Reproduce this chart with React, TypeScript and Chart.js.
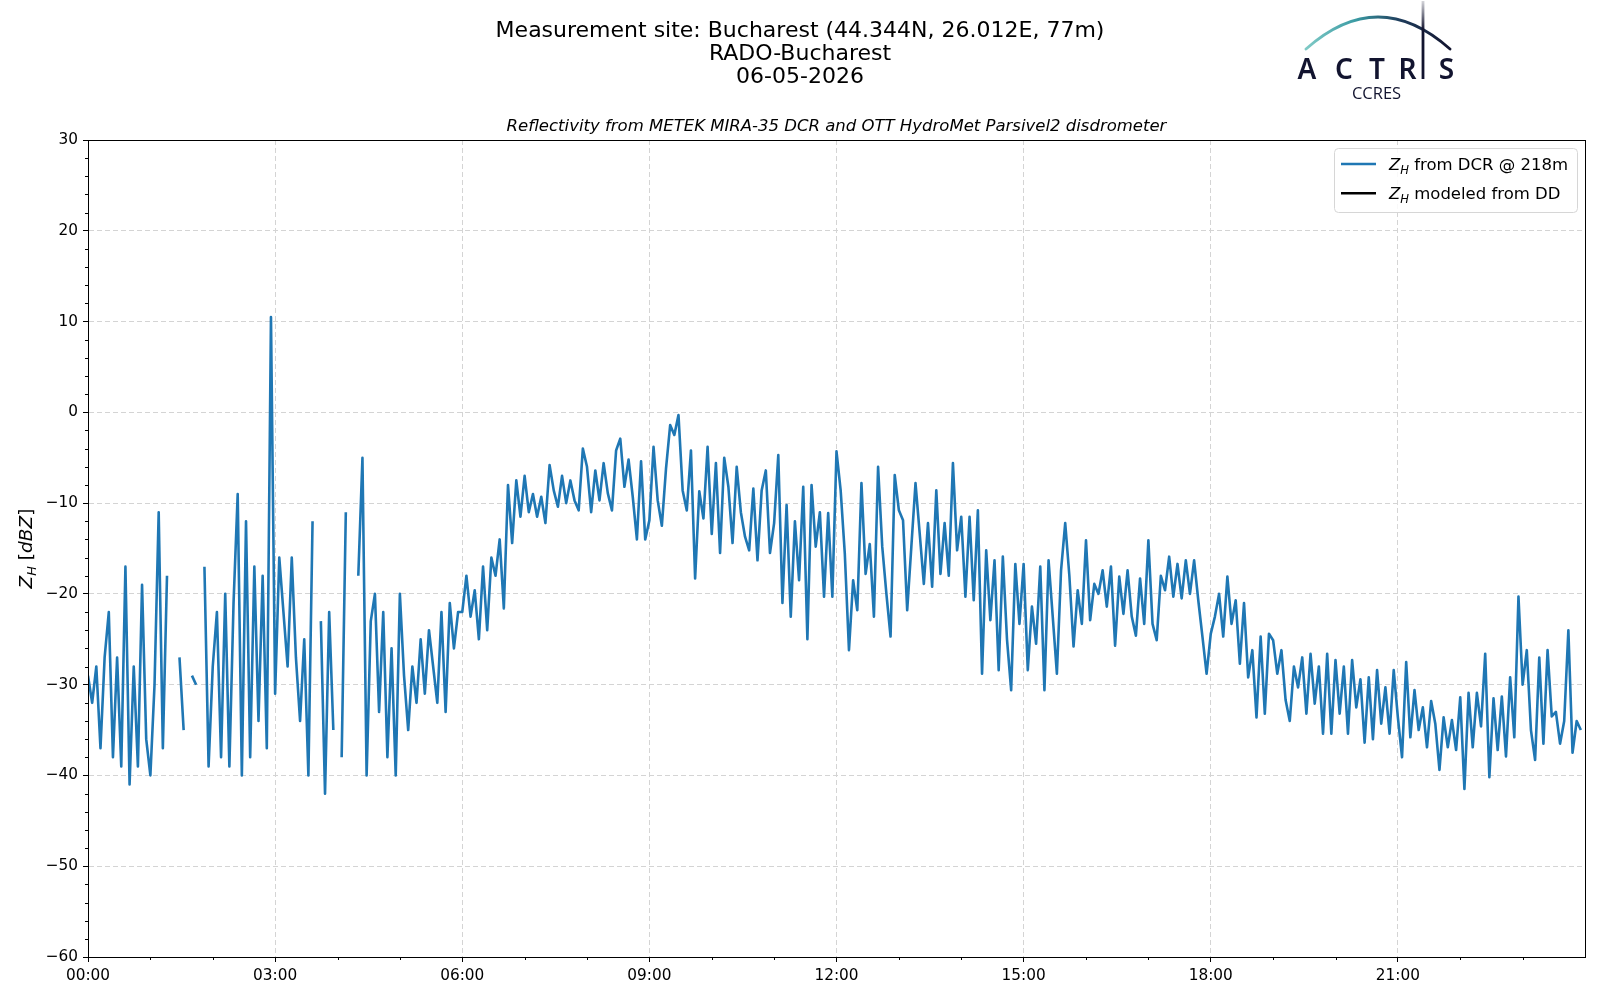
import { useEffect, useRef } from "react";
import { Chart, registerables } from "chart.js";

Chart.register(...registerables);

// Z_H from the cloud radar, one value every 4 minutes, 15 per hour (null = no echo)
const sampleMinutes = 4;
const zhNight = [
  -29, -32, -28, -37, -27, -22, -38, -27, -39, -17, -41, -28, -39, -19, -36,
  -40, -30, -11, -37, -18, null, null, -27, -35, null, -29, -30, null, -17, -39,
  -28, -22, -38, -20, -39, -21, -9, -40, -12, -38, -17, -34, -18, -37, 10.5,
  -31, -16, -22, -28, -16, -27, -34, -25, -40, -12, null, -23, -42, -22, -35,
  null, -38, -11, null, null, -18, -5, -40, -23, -20, -33, -22, -38, -26, -40,
  -20, -29, -35, -28, -32, -25, -31, -24, -28, -32, -22, -33, -21, -26, -22,
];
const zhMorning = [
  -22, -18, -22.5, -19.6, -25, -17, -24, -16, -18, -14, -21.6, -8, -14.4, -7.5, -11.5,
  -7, -11, -9, -11.5, -9.3, -12.2, -5.8, -8.6, -10.4, -7, -10, -7.5, -9.7, -10.8, -4,
  -6, -11, -6.4, -9.7, -5.6, -8.9, -10.8, -4.2, -2.9, -8.2, -5.2, -9.3, -14, -5.4, -14,
  -11.9, -3.8, -9.7, -12.5, -6.2, -1.4, -2.5, -0.3, -8.6, -10.8, -4.2, -18.3, -8.7, -11.7, -3.8,
  -13.4, -5.6, -15.5, -5, -8.2, -14.4, -6, -11, -13.7, -15.2, -8.4, -16.3, -8.6, -6.4, -15.5,
  -12.2, -4.7, -21, -10.2, -22.5, -12, -18.5, -8.2, -25, -8, -14.8, -11, -20.3, -11.1, -20.3,
];
const zhAfternoon = [
  -4.3, -8.6, -15.6, -26.2, -18.5, -21.8, -7.8, -17.8, -14.5, -22.5, -6, -14.8, -20, -24.7, -6.9,
  -10.8, -11.9, -21.8, -14.8, -7.8, -13.3, -18.9, -12.2, -19.2, -8.6, -17.8, -12.2, -18, -5.6, -15.2,
  -11.5, -20.3, -11.5, -20.7, -10.8, -28.8, -15.2, -22.9, -16.3, -28.4, -15.9, -25, -30.6, -16.7, -23.3,
  -16.7, -28.4, -21.4, -25.5, -17, -30.6, -16.3, -22.5, -28.8, -17.4, -12.2, -18, -25.8, -19.6, -23.3,
  -14.1, -22.9, -18.9, -20, -17.4, -21.4, -17, -25.7, -18.1, -22.2, -17.4, -22.5, -24.6, -18.3, -23.3,
  -14.1, -23.3, -25.1, -18, -19.6, -15.9, -20.3, -16.7, -20.5, -16.3, -20, -16.3, -20.7, -24.7, -28.8,
];
const zhEvening = [
  -24.4, -22.5, -20, -24.7, -18.1, -23.3, -20.7, -27.7, -21, -29.2, -26.2, -33.6, -24.7, -33.2, -24.4,
  -25.1, -28.8, -26.2, -31.7, -34, -28, -30.3, -27, -33.2, -26.6, -32.1, -28, -35.4, -26.6, -35.4,
  -27.3, -33.2, -28, -35.4, -27.3, -32.5, -29.4, -36.4, -29.2, -36, -28.4, -34.3, -30.3, -35.4, -28.4,
  -33.6, -38, -27.5, -35.8, -30.6, -35, -32.5, -36.9, -31.8, -34.3, -39.4, -33.6, -36.9, -33.9, -37.2,
  -31.4, -41.5, -30.9, -36.9, -30.9, -34.6, -26.6, -40.2, -31.5, -37.2, -31.3, -37.9, -29.2, -35.8, -20.3,
  -30, -26.2, -35, -38.3, -27, -36.5, -26.2, -33.5, -33, -36.5, -34, -24, -37.5, -34, -35,
];

const xTickMinutes = [0, 180, 360, 540, 720, 900, 1080, 1260];
const xTickLabels = ["00:00", "03:00", "06:00", "09:00", "12:00", "15:00", "18:00", "21:00"];
const yTickValues = [30, 20, 10, 0, -10, -20, -30, -40, -50, -60];
const titleLines = [
  "Measurement site: Bucharest (44.344N, 26.012E, 77m)",
  "RADO-Bucharest",
  "06-05-2026",
];
const subtitle = "Reflectivity from METEK MIRA-35 DCR and OTT HydroMet Parsivel2 disdrometer";
const legendItems = [
  { text: " from DCR @ 218m", color: "#1f77b4" },
  { text: " modeled from DD", color: "#000000" },
];

const FONT = '"DejaVu Sans"';

type Run = { text: string; italic?: boolean; sub?: boolean };

function runFont(r: Run, size: number) {
  const s = r.sub ? size * 0.7 : size;
  return `${r.italic ? "italic " : ""}${s}px ${FONT}`;
}

function measureRuns(ctx: CanvasRenderingContext2D, runs: Run[], size: number) {
  let w = 0;
  for (const r of runs) {
    ctx.font = runFont(r, size);
    w += ctx.measureText(r.text).width;
  }
  return w;
}

function drawRuns(ctx: CanvasRenderingContext2D, runs: Run[], x: number, y: number, size: number) {
  let cx = x;
  for (const r of runs) {
    ctx.font = runFont(r, size);
    ctx.fillText(r.text, cx, r.sub ? y + size * 0.22 : y);
    cx += ctx.measureText(r.text).width;
  }
}

const decorations = {
  id: "decorations",
  afterDraw(chart: any) {
    const ctx: CanvasRenderingContext2D = chart.ctx;
    const { left, right, top, bottom } = chart.chartArea;
    const xs = chart.scales.x;
    const ys = chart.scales.y;
    ctx.save();
    ctx.textBaseline = "alphabetic";
    ctx.fillStyle = "#000";

    // frame
    ctx.strokeStyle = "#000";
    ctx.lineWidth = 1;
    ctx.strokeRect(Math.round(left) + 0.5, Math.round(top) + 0.5, Math.round(right - left), Math.round(bottom - top));

    // minor ticks
    ctx.beginPath();
    for (let m = 60; m < 1440; m += 60) {
      if (m % 180 === 0) continue;
      const px = Math.round(xs.getPixelForValue(m)) + 0.5;
      ctx.moveTo(px, bottom);
      ctx.lineTo(px, bottom + 3);
    }
    for (let v = -58; v < 30; v += 2) {
      if (v % 10 === 0) continue;
      const py = Math.round(ys.getPixelForValue(v)) + 0.5;
      ctx.moveTo(left - 3, py);
      ctx.lineTo(left, py);
    }
    ctx.stroke();

    // header
    ctx.textAlign = "center";
    ctx.font = `22px ${FONT}`;
    const baselines = [36.5, 60, 82.5];
    titleLines.forEach((t, i) => ctx.fillText(t, 800, baselines[i]));
    ctx.font = `italic 16.5px ${FONT}`;
    ctx.fillText(subtitle, (left + right) / 2, 131);

    // y axis title
    ctx.save();
    ctx.translate(25, (top + bottom) / 2);
    ctx.rotate(-Math.PI / 2);
    const yRuns: Run[] = [
      { text: "Z", italic: true },
      { text: "H", italic: true, sub: true },
      { text: " [" },
      { text: "dBZ", italic: true },
      { text: "]" },
    ];
    ctx.textAlign = "left";
    const yw = measureRuns(ctx, yRuns, 18.5);
    drawRuns(ctx, yRuns, -yw / 2, 6.5, 18.5);
    ctx.restore();

    // legend
    const lx = 1334, ly = 148, lw = 243, lh = 64;
    ctx.beginPath();
    ctx.roundRect(lx + 0.5, ly + 0.5, lw, lh, 4);
    ctx.fillStyle = "rgba(255,255,255,0.85)";
    ctx.fill();
    ctx.strokeStyle = "#d6d6d6";
    ctx.lineWidth = 1;
    ctx.stroke();
    ctx.textAlign = "left";
    legendItems.forEach((item, i) => {
      const cy = 164 + i * 29.3;
      ctx.strokeStyle = item.color;
      ctx.lineWidth = 2.4;
      ctx.beginPath();
      ctx.moveTo(1341, cy);
      ctx.lineTo(1376, cy);
      ctx.stroke();
      ctx.fillStyle = "#000";
      drawRuns(
        ctx,
        [{ text: "Z", italic: true }, { text: "H", italic: true, sub: true }, { text: item.text }],
        1389,
        cy + 6,
        16.5
      );
    });

    // ACTRIS / CCRES logo
    const navy = "#12142f";
    const arcGrad = ctx.createLinearGradient(1306, 0, 1450, 0);
    arcGrad.addColorStop(0, "#7fcac6");
    arcGrad.addColorStop(0.35, "#3a9aa3");
    arcGrad.addColorStop(0.65, "#1f3d5c");
    arcGrad.addColorStop(1, navy);
    ctx.strokeStyle = arcGrad;
    ctx.lineWidth = 2.8;
    ctx.lineCap = "round";
    ctx.beginPath();
    ctx.moveTo(1306, 49);
    ctx.quadraticCurveTo(1378, -15, 1450, 49);
    ctx.stroke();
    const vGrad = ctx.createLinearGradient(0, 0, 0, 30);
    vGrad.addColorStop(0, "rgba(18,20,47,0.15)");
    vGrad.addColorStop(1, navy);
    ctx.strokeStyle = vGrad;
    ctx.lineWidth = 2.8;
    ctx.lineCap = "butt";
    ctx.beginPath();
    ctx.moveTo(1423, 1);
    ctx.lineTo(1423, 79);
    ctx.stroke();
    ctx.fillStyle = navy;
    ctx.textAlign = "center";
    ctx.font = `600 28px "Noto Sans"`;
    const letters: [string, number][] = [["A", 1307], ["C", 1344], ["T", 1377], ["R", 1407.5], ["S", 1446.5]];
    letters.forEach(([ch, x]) => ctx.fillText(ch, x, 78.5));
    ctx.font = `16.5px "Open Sans"`;
    ctx.fillText("CCRES", 1376.5, 99);

    ctx.restore();
  },
};

export default function App() {
  const canvasRef = useRef<HTMLCanvasElement>(null);

  useEffect(() => {
    if (!canvasRef.current) return;
    const zh = [...zhNight, ...zhMorning, ...zhAfternoon, ...zhEvening];
    const points = zh.map((v, i) => ({ x: i * sampleMinutes, y: v }));

    const axisFont = { family: FONT, size: 15.3 };
    const grid = {
      color: "#d4d4d4",
      lineWidth: 1,
      tickLength: 5,
      tickColor: "#000",
      tickWidth: 1,
    };

    const chart = new Chart(canvasRef.current, {
      type: "line",
      data: {
        datasets: [
          {
            label: "ZH from DCR @ 218m",
            data: points,
            borderColor: "#1f77b4",
            borderWidth: 2.6,
            pointRadius: 0,
            spanGaps: false,
            tension: 0,
            borderJoinStyle: "round",
          },
        ],
      },
      plugins: [decorations],
      options: {
        responsive: false,
        animation: false,
        layout: { padding: { top: 140, left: 0, right: 15, bottom: 0 } },
        plugins: {
          legend: { display: false },
          title: { display: false },
          tooltip: { enabled: false },
        },
        scales: {
          x: {
            type: "linear",
            min: 0,
            max: 1440,
            afterBuildTicks: (s: any) => {
              s.ticks = xTickMinutes.map((v) => ({ value: v }));
            },
            afterFit: (s: any) => {
              s.height = 43;
            },
            ticks: {
              callback: (v: any) => xTickLabels[xTickMinutes.indexOf(Number(v))] ?? "",
              font: axisFont,
              color: "#000",
              maxRotation: 0,
              autoSkip: false,
              padding: 5,
            },
            grid,
            border: { display: true, color: "#000", width: 1, dash: [5, 3] },
          },
          y: {
            type: "linear",
            min: -60,
            max: 30,
            afterBuildTicks: (s: any) => {
              s.ticks = yTickValues.map((v) => ({ value: v }));
            },
            afterFit: (s: any) => {
              s.width = 88;
            },
            ticks: {
              callback: (v: any) => (Number(v) < 0 ? "\u2212" + Math.abs(Number(v)) : String(v)),
              font: axisFont,
              color: "#000",
              padding: 5,
            },
            grid,
            border: { display: true, color: "#000", width: 1, dash: [5, 3] },
          },
        },
      },
    });

    return () => chart.destroy();
  }, []);

  return (
    <div style={{ position: "absolute", left: 0, top: 0, width: 1600, height: 1000, background: "#fff" }}>
      <canvas ref={canvasRef} width={1600} height={1000} />
    </div>
  );
}
